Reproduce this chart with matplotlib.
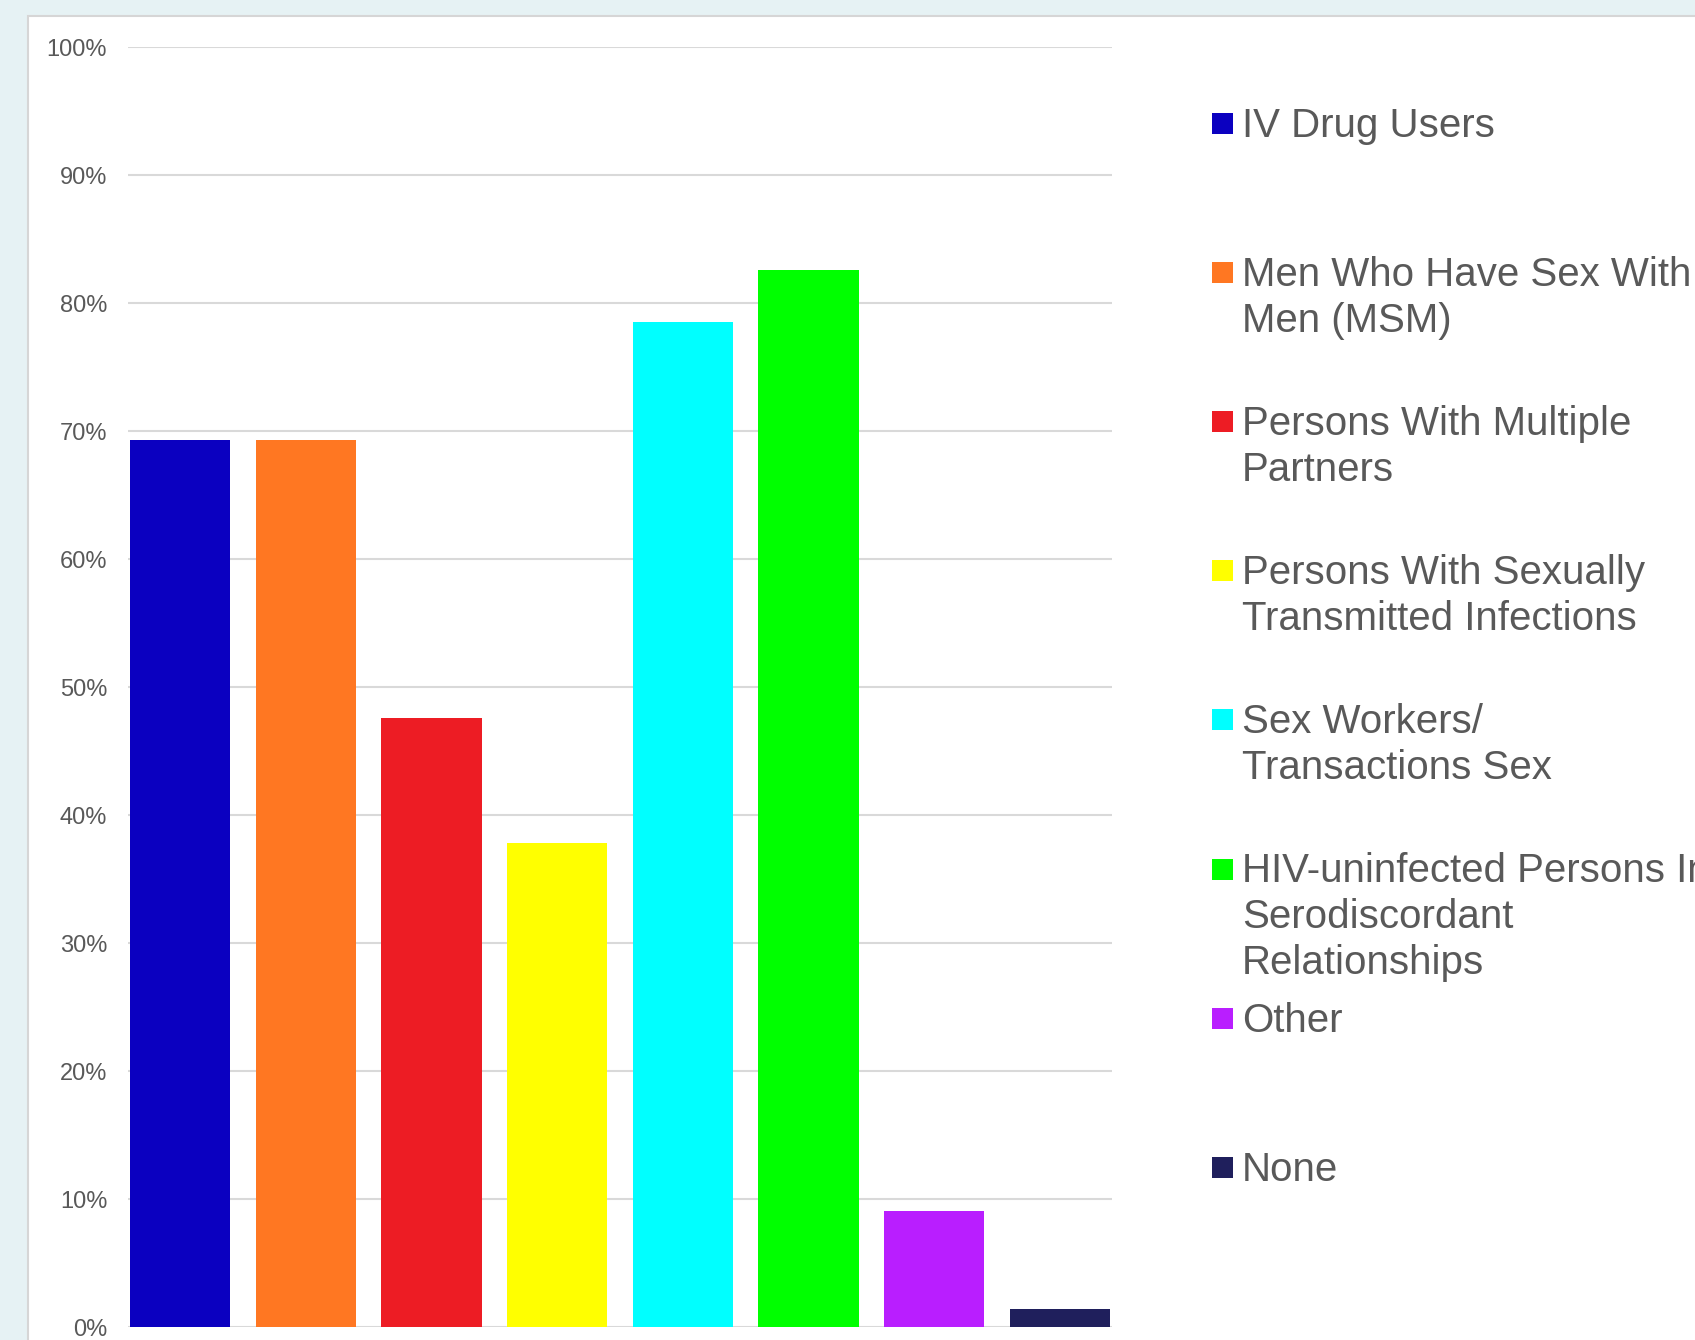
import matplotlib.pyplot as plt
from matplotlib.patches import Rectangle
from matplotlib.ticker import PercentFormatter

# data
categories = ["IV Drug Users",
              "Men Who Have Sex With\nMen (MSM)",
              "Persons With Multiple\nPartners",
              "Persons With Sexually\nTransmitted Infections",
              "Sex Workers/\nTransactions Sex",
              "HIV-uninfected Persons In\nSerodiscordant\nRelationships",
              "Other",
              "None"]
values = [69.3, 69.3, 47.6, 37.8, 78.5, 82.6, 9.1, 1.4]
colors = ["#0B00C0", "#FF7722", "#ED1C24", "#FFFF00",
          "#00FFFF", "#00FF00", "#B91EFF", "#1F1F5C"]
yticks = [0, 10, 20, 30, 40, 50, 60, 70, 80, 90, 100]

W, H = 1695, 1340
plt.rcParams['font.family'] = ['Liberation Sans', 'DejaVu Sans']
txt_color = "#595959"

fig = plt.figure(figsize=(W / 100, H / 100), dpi=100)
fig.patch.set_facecolor("#E6F2F4")

# white panel behind everything
fig.patches.append(Rectangle((28 / W, -0.1), 1.2, (H - 16) / H + 0.1,
                             transform=fig.transFigure, facecolor="white",
                             edgecolor="#D6D6D6", linewidth=1.5, zorder=-5))

ax = fig.add_axes([128 / W, 13 / H, (1112 - 128) / W, 1280 / H])
ax.set_facecolor("none")
x = range(len(values))
ax.bar(x, values, width=0.8, color=colors, zorder=2)
ax.set_xlim(-0.415, len(values) - 1 + 0.415)
ax.set_ylim(0, 100)
ax.set_yticks(yticks)
ax.yaxis.set_major_formatter(PercentFormatter(decimals=0))
ax.set_xticks([])
ax.grid(axis='y', color="#D9D9D9", linewidth=1.5, zorder=0)
ax.set_axisbelow(True)
for s in ax.spines.values():
    s.set_visible(False)
ax.tick_params(axis='y', length=0, pad=15, labelsize=17, labelcolor=txt_color)

# legend, drawn slot by slot
base0 = 137
slot = 149.1
line_gap = 46
for i, (lab, c) in enumerate(zip(categories, colors)):
    b = base0 + i * slot
    fig.patches.append(Rectangle((1212 / W, 1 - (b - 3) / H), 21 / W, 21 / H,
                                 transform=fig.transFigure, facecolor=c,
                                 edgecolor="none"))
    for j, line in enumerate(lab.split("\n")):
        fig.text(1242 / W, 1 - (b + j * line_gap) / H, line, fontsize=29,
                 color=txt_color, va='baseline', ha='left')

fig.savefig("out.png", dpi=100)
